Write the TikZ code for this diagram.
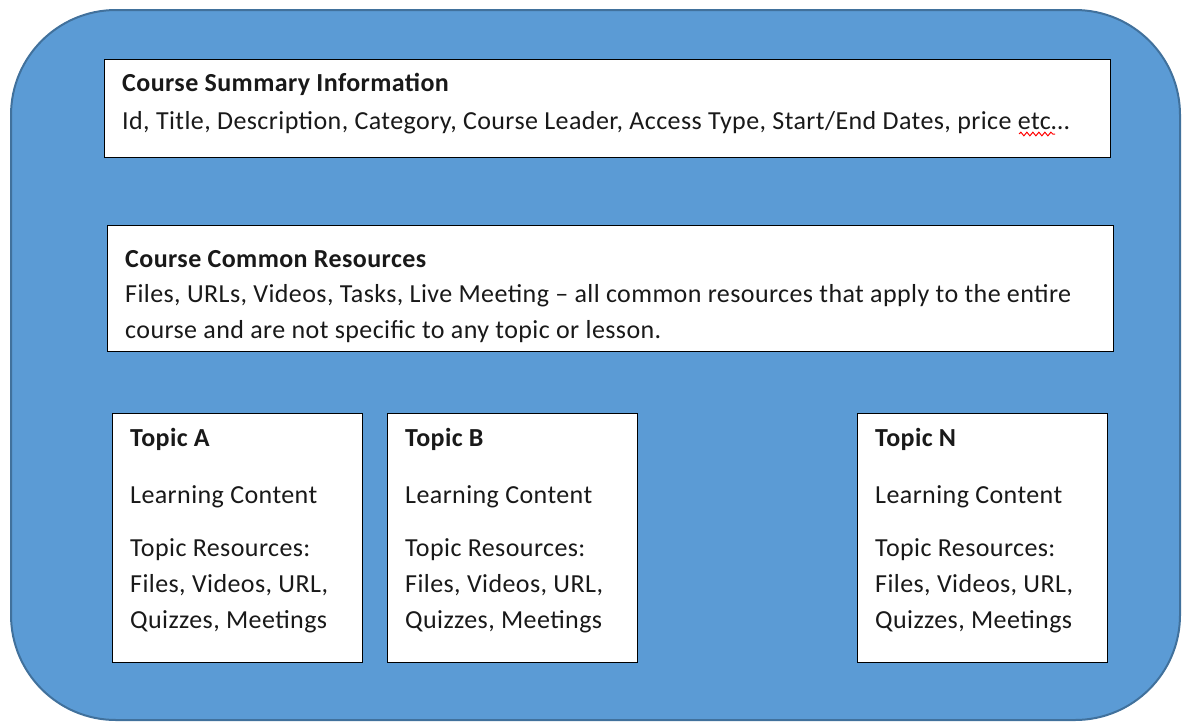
\documentclass[tikz,border=0pt]{standalone}
\usepackage{fontspec}
\setmainfont{Carlito}[LetterSpace=1.6]
\usetikzlibrary{decorations.pathmorphing}

\definecolor{shapeblue}{HTML}{5B9BD5}
\definecolor{shapeedge}{HTML}{41719C}

\begin{document}
\begin{tikzpicture}[x=1pt, y=-1pt,
  panel/.style={draw=black, line width=1.3pt, fill=white, anchor=north west, inner sep=0pt},
  txt/.style={anchor=base west, inner sep=0pt, font=\fontsize{26}{30}\selectfont, text=black!90},
  head/.style={txt, font=\fontsize{26}{30}\selectfont\bfseries}]

\def\width{1182}
\def\height{723}
\path [use as bounding box] (0,0) rectangle (\width,\height);

% CONTAINER
\draw [line width=2pt, draw=shapeedge, fill=shapeblue, rounded corners=105pt] (11,10) rectangle (1180,720);

% SUMMARY
\node [panel, minimum width=1006, minimum height=98] (summary) at (104,59) {};
\node [head] (sumhead) at (122,91) {Course Summary Information};
\node [txt] (sumtext) at (122,129) {Id, Title, Description, Category, Course Leader, Access Type, Start/End Dates, price etc…};
\draw [red, line width=1pt, decorate, decoration={snake, amplitude=1.8pt, segment length=6pt}] (1019,134) -- (1055,134);

% COMMON RESOURCES
\node [panel, minimum width=1006, minimum height=126] (common) at (107,225) {};
\node [head] (comhead) at (125,267) {Course Common Resources};
\node [txt] (comline1) at (125,302) {Files, URLs, Videos, Tasks, Live Meeting – all common resources that apply to the entire};
\node [txt] (comline2) at (125,338) {course and are not specific to any topic or lesson.};

% TOPICS
\foreach \x/\id/\lbl in {112/topa/A, 387/topb/B, 857/topn/N} {
  \node [panel, minimum width=250, minimum height=249] (\id) at (\x,413) {};
  \node [head] (\id-head) at (\x+18,446) {Topic \lbl};
  \node [txt] (\id-learn) at (\x+18,503) {Learning Content};
  \node [txt] (\id-res) at (\x+18,556) {Topic Resources:};
  \node [txt] (\id-files) at (\x+18,592) {Files, Videos, URL,};
  \node [txt] (\id-quiz) at (\x+18,628) {Quizzes, Meetings};
}

\end{tikzpicture}
\end{document}
